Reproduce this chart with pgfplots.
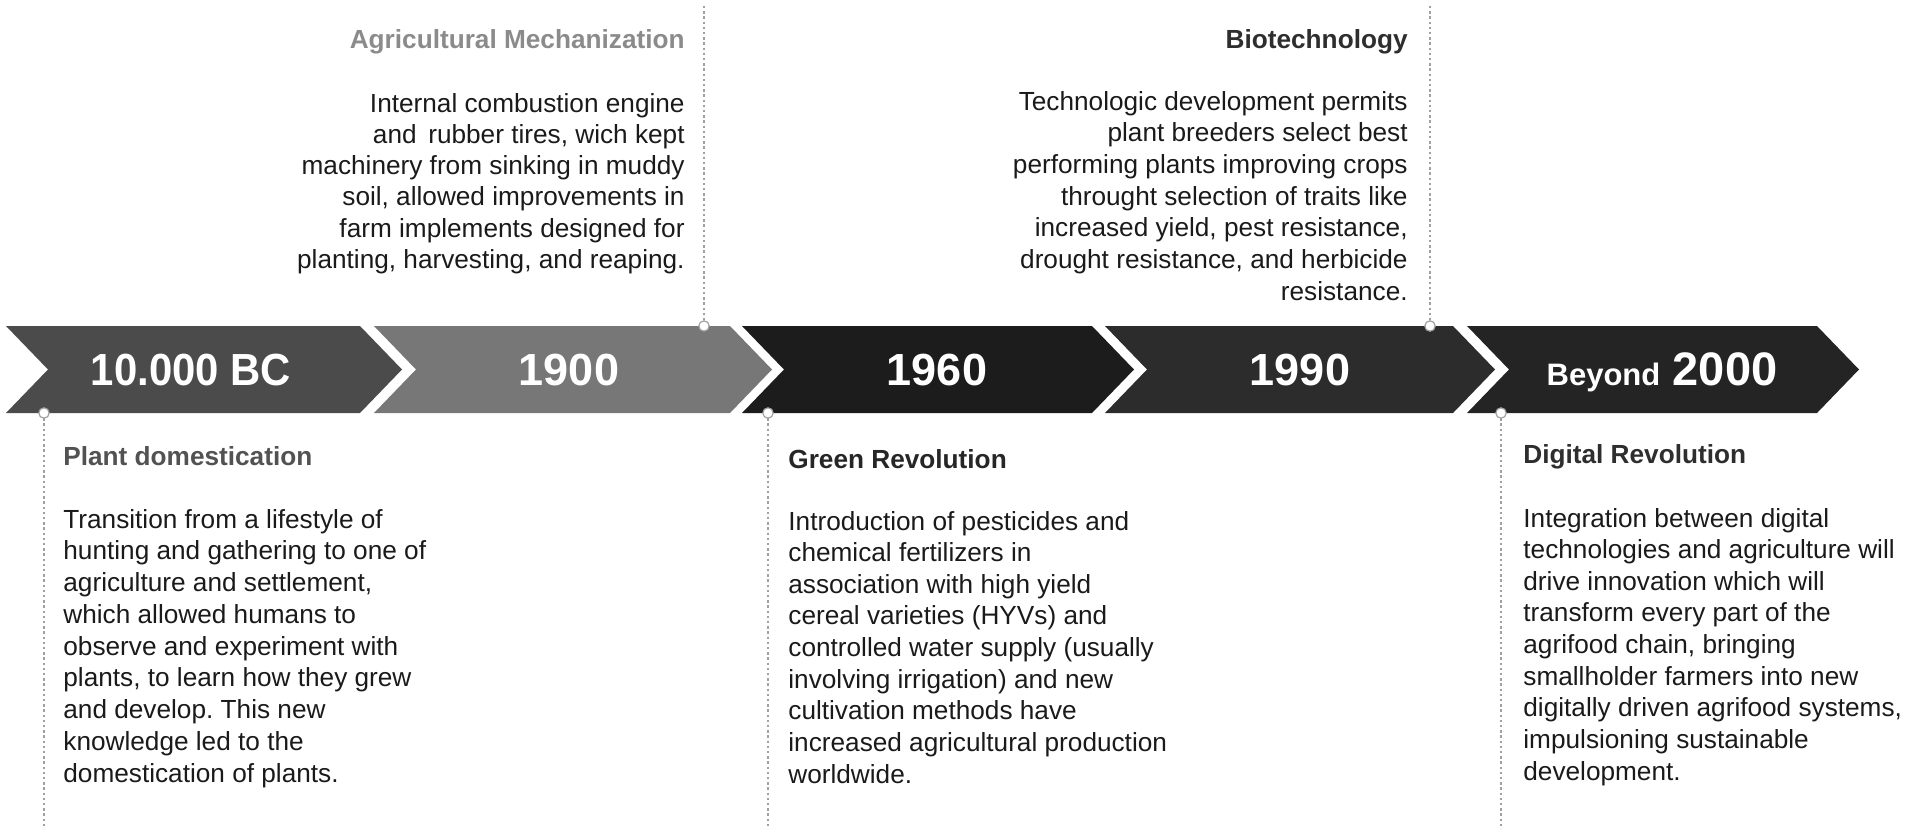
\documentclass[border=0pt]{standalone}
\usepackage{graphicx}
\usepackage{pgfplots}
\pgfplotsset{compat=1.18}
\usepackage{fontspec}
\setmainfont{Liberation Sans}
\frenchspacing
\definecolor{aA}{HTML}{4B4B4B}
\definecolor{aB}{HTML}{777777}
\definecolor{aC}{HTML}{1C1C1C}
\definecolor{aD}{HTML}{2C2C2C}
\definecolor{aE}{HTML}{242424}
\definecolor{bodytxt}{HTML}{1A1A1A}
\definecolor{dotc}{HTML}{A0A0A0}
\newcommand{\bodyf}{\fontsize{13.1}{15.8}\selectfont}
\newcommand{\titf}{\fontsize{13.1}{15.8}\selectfont\bfseries}
\newcommand{\yearf}{\fontsize{22.5}{27}\selectfont\bfseries}
\begin{document}
\begin{tikzpicture}
\begin{axis}[width=953.5pt,height=414.5pt,scale only axis,
  xmin=0,xmax=1907,ymin=0,ymax=829,y dir=reverse,hide axis,clip=false]
\path (axis cs:0,0) rectangle (axis cs:1907,829);
% arrows
\addplot[fill=aA,draw=none] coordinates {(6,326) (360,326) (402,369.5) (360,413) (6,413) (48,369.5)};
\addplot[fill=aB,draw=none] coordinates {(374,326) (730,326) (772,369.5) (730,413) (374,413) (416,369.5)};
\addplot[fill=aC,draw=none] coordinates {(742,326) (1092,326) (1134,369.5) (1092,413) (742,413) (784,369.5)};
\addplot[fill=aD,draw=none] coordinates {(1105,326) (1453,326) (1495,369.5) (1453,413) (1105,413) (1147,369.5)};
\addplot[fill=aE,draw=none] coordinates {(1467,326) (1817,326) (1859,369.5) (1817,413) (1467,413) (1509,369.5)};
% dotted connectors
\addplot[dotc,line width=0.9pt,dash pattern=on 1.2pt off 1.4pt] coordinates {(704,6) (704,326)};
\addplot[dotc,line width=0.9pt,dash pattern=on 1.2pt off 1.4pt] coordinates {(1430,6) (1430,326)};
\addplot[dotc,line width=0.9pt,dash pattern=on 1.2pt off 1.4pt] coordinates {(44,413) (44,829)};
\addplot[dotc,line width=0.9pt,dash pattern=on 1.2pt off 1.4pt] coordinates {(768,413) (768,829)};
\addplot[dotc,line width=0.9pt,dash pattern=on 1.2pt off 1.4pt] coordinates {(1501,413) (1501,829)};
\addplot[only marks,mark=*,mark size=2.6pt,mark options={fill=white,draw=dotc,line width=0.6pt}]
  coordinates {(704,326) (1430,326) (44,413) (768,413) (1501,413)};
% year labels
\node[anchor=base,inner sep=0,text=white,font=\yearf] at (axis cs:191,385) {\scalebox{0.93}[1]{10.000 BC}};
\node[anchor=base,inner sep=0,text=white,font=\yearf] at (axis cs:569,385) {1900};
\node[anchor=base,inner sep=0,text=white,font=\yearf] at (axis cs:937,385) {1960};
\node[anchor=base,inner sep=0,text=white,font=\yearf] at (axis cs:1300,385) {1990};
\node[anchor=base,inner sep=0,text=white,font=\yearf] at (axis cs:1662,385) {{\fontsize{15.5}{20}\selectfont Beyond} {\fontsize{23.5}{28}\selectfont 2000}};
% Agricultural Mechanization
\node[anchor=base east,inner sep=0,text=aB!85,font=\titf] at (axis cs:685,48) {Agricultural Mechanization};
\node[anchor=base east,inner sep=0,text=bodytxt,font=\bodyf] at (axis cs:685,112) {Internal combustion engine};
\node[anchor=base east,inner sep=0,text=bodytxt,font=\bodyf] at (axis cs:685,143.3) {and\, rubber tires, wich kept};
\node[anchor=base east,inner sep=0,text=bodytxt,font=\bodyf] at (axis cs:685,174.6) {machinery from sinking in muddy};
\node[anchor=base east,inner sep=0,text=bodytxt,font=\bodyf] at (axis cs:685,205.9) {soil, allowed improvements in};
\node[anchor=base east,inner sep=0,text=bodytxt,font=\bodyf] at (axis cs:685,237.2) {farm implements designed for};
\node[anchor=base east,inner sep=0,text=bodytxt,font=\bodyf] at (axis cs:685,268.5) {planting, harvesting, and reaping.};
% Biotechnology
\node[anchor=base east,inner sep=0,text=black!82,font=\titf] at (axis cs:1408,48) {Biotechnology};
\node[anchor=base east,inner sep=0,text=bodytxt,font=\bodyf] at (axis cs:1408,110) {Technologic development permits};
\node[anchor=base east,inner sep=0,text=bodytxt,font=\bodyf] at (axis cs:1408,141.7) {plant breeders select best};
\node[anchor=base east,inner sep=0,text=bodytxt,font=\bodyf] at (axis cs:1408,173.3) {performing plants improving crops};
\node[anchor=base east,inner sep=0,text=bodytxt,font=\bodyf] at (axis cs:1408,205) {throught selection of traits like};
\node[anchor=base east,inner sep=0,text=bodytxt,font=\bodyf] at (axis cs:1408,236.7) {increased yield, pest resistance,};
\node[anchor=base east,inner sep=0,text=bodytxt,font=\bodyf] at (axis cs:1408,268.3) {drought resistance, and herbicide};
\node[anchor=base east,inner sep=0,text=bodytxt,font=\bodyf] at (axis cs:1408,300) {resistance.};
% Plant domestication
\node[anchor=base west,inner sep=0,text=black!68,font=\titf] at (axis cs:63,465) {Plant domestication};
\node[anchor=base west,inner sep=0,text=bodytxt,font=\bodyf] at (axis cs:63,528) {Transition from a lifestyle of};
\node[anchor=base west,inner sep=0,text=bodytxt,font=\bodyf] at (axis cs:63,559.75) {hunting and gathering to one of};
\node[anchor=base west,inner sep=0,text=bodytxt,font=\bodyf] at (axis cs:63,591.5) {agriculture and settlement,};
\node[anchor=base west,inner sep=0,text=bodytxt,font=\bodyf] at (axis cs:63,623.25) {which allowed humans to};
\node[anchor=base west,inner sep=0,text=bodytxt,font=\bodyf] at (axis cs:63,655) {observe and experiment with};
\node[anchor=base west,inner sep=0,text=bodytxt,font=\bodyf] at (axis cs:63,686.75) {plants, to learn how they grew};
\node[anchor=base west,inner sep=0,text=bodytxt,font=\bodyf] at (axis cs:63,718.5) {and develop. This new};
\node[anchor=base west,inner sep=0,text=bodytxt,font=\bodyf] at (axis cs:63,750.25) {knowledge led to the};
\node[anchor=base west,inner sep=0,text=bodytxt,font=\bodyf] at (axis cs:63,782) {domestication of plants.};
% Green Revolution
\node[anchor=base west,inner sep=0,text=black!85,font=\titf] at (axis cs:788,468) {Green Revolution};
\node[anchor=base west,inner sep=0,text=bodytxt,font=\bodyf] at (axis cs:788,530) {Introduction of pesticides and};
\node[anchor=base west,inner sep=0,text=bodytxt,font=\bodyf] at (axis cs:788,561.6) {chemical fertilizers in};
\node[anchor=base west,inner sep=0,text=bodytxt,font=\bodyf] at (axis cs:788,593.25) {association with high yield};
\node[anchor=base west,inner sep=0,text=bodytxt,font=\bodyf] at (axis cs:788,624.9) {cereal varieties (HYVs) and};
\node[anchor=base west,inner sep=0,text=bodytxt,font=\bodyf] at (axis cs:788,656.5) {controlled water supply (usually};
\node[anchor=base west,inner sep=0,text=bodytxt,font=\bodyf] at (axis cs:788,688.1) {involving irrigation) and new};
\node[anchor=base west,inner sep=0,text=bodytxt,font=\bodyf] at (axis cs:788,719.75) {cultivation methods have};
\node[anchor=base west,inner sep=0,text=bodytxt,font=\bodyf] at (axis cs:788,751.4) {increased agricultural production};
\node[anchor=base west,inner sep=0,text=bodytxt,font=\bodyf] at (axis cs:788,783) {worldwide.};
% Digital Revolution
\node[anchor=base west,inner sep=0,text=black!82,font=\titf] at (axis cs:1523,463) {Digital Revolution};
\node[anchor=base west,inner sep=0,text=bodytxt,font=\bodyf] at (axis cs:1523,527) {Integration between digital};
\node[anchor=base west,inner sep=0,text=bodytxt,font=\bodyf] at (axis cs:1523,558.6) {technologies and agriculture will};
\node[anchor=base west,inner sep=0,text=bodytxt,font=\bodyf] at (axis cs:1523,590.25) {drive innovation which will};
\node[anchor=base west,inner sep=0,text=bodytxt,font=\bodyf] at (axis cs:1523,621.9) {transform every part of the};
\node[anchor=base west,inner sep=0,text=bodytxt,font=\bodyf] at (axis cs:1523,653.5) {agrifood chain, bringing};
\node[anchor=base west,inner sep=0,text=bodytxt,font=\bodyf] at (axis cs:1523,685.1) {smallholder farmers into new};
\node[anchor=base west,inner sep=0,text=bodytxt,font=\bodyf] at (axis cs:1523,716.75) {digitally driven agrifood systems,};
\node[anchor=base west,inner sep=0,text=bodytxt,font=\bodyf] at (axis cs:1523,748.4) {impulsioning sustainable};
\node[anchor=base west,inner sep=0,text=bodytxt,font=\bodyf] at (axis cs:1523,780) {development.};
\end{axis}
\end{tikzpicture}
\end{document}
